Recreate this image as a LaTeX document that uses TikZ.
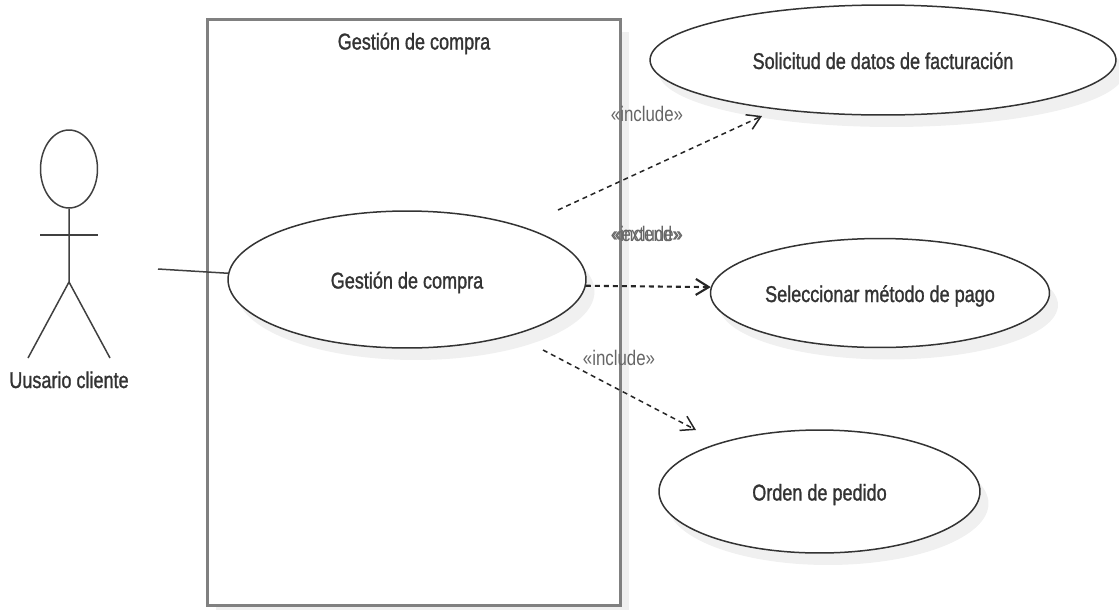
\documentclass[tikz,border=0pt]{standalone}
\usepackage{fontspec}
\setmainfont[FakeStretch=0.80]{Liberation Sans}
\newfontfamily\negrita[FakeStretch=0.79,FakeBold=1.2]{Liberation Sans}
\usetikzlibrary{arrows.meta,shapes,shadows}

\begin{document}
\begin{tikzpicture}[x=0.02cm,y=-0.02cm,>={Straight Barb[length=0.26cm,width=0.32cm]}]
  \tikzstyle{sombra}=[drop shadow={shadow xshift=0.17cm,shadow yshift=-0.24cm,fill=black!6,opacity=1}]
  \tikzstyle{sistema}=[rectangle,draw=black!50,line width=0.065cm,fill=white,inner sep=0,minimum width=8.26cm,minimum height=11.72cm,sombra]
  \tikzstyle{caso}=[ellipse,draw=black!80,line width=0.03cm,fill=white,inner sep=0,sombra,text=black!80,font=\negrita\fontsize{13}{15}\selectfont,text height=0.36cm,text depth=0]
  \tikzstyle{titulo}=[text=black!80,font=\negrita\fontsize{13}{15}\selectfont,text height=0.36cm,text depth=0]
  \tikzstyle{etiqueta}=[text=black!60,font=\fontsize{12}{14}\selectfont]
  \tikzstyle{linea}=[draw=black!75,line width=0.03cm]
  \tikzstyle{incluye}=[draw=black!85,line width=0.03cm,dash pattern=on 0.1cm off 0.08cm,->]

    \useasboundingbox (0,0) rectangle (1119,609);

    \node [sistema] (sistema) at (414,312.5) {};
    \node [titulo] (tsistema) at (414,40.5) {Gestión de compra};

    \node [caso,minimum width=7.16cm,minimum height=2.74cm] (compra) at (407,279.5) {Gestión de compra}; %principal
    \node [caso,minimum width=9.32cm,minimum height=2.2cm] (solicitud) at (883,60) {Solicitud de datos de facturación};
    \node [caso,minimum width=6.78cm,minimum height=2.18cm] (metodo) at (880,293) {Seleccionar método de pago};
    \node [caso,minimum width=6.42cm,minimum height=2.46cm] (orden) at (819.5,491.5) {Orden de pedido};

    % actor
    \node [ellipse,linea,inner sep=0,minimum width=1.14cm,minimum height=1.56cm] (cabeza) at (69,169) {};
    \coordinate (cadera) at (69,282);
    \coordinate (manoi) at (40,235);
    \coordinate (manod) at (98,235);
    \coordinate (piei) at (28,358);
    \coordinate (pied) at (110,358);
    \node [titulo] (actor) at (69,379) {Uusario cliente};
    \draw [linea] (cabeza.south) -- (cadera) -- (piei);
    \draw [linea] (cadera) -- (pied);
    \draw [linea,line width=0.04cm] (manoi) -- (manod);

    \coordinate (asocia) at (158,269);
    \draw [linea] (asocia) -- (compra.178);

    \coordinate (salidauno) at (558,210);
    \coordinate (llegauno) at (762,116);
    \coordinate (salidatres) at (543,350);
    \coordinate (llegatres) at (696,430);
    \draw [incluye] (salidauno) -- (llegauno);
    \draw [incluye,line width=0.042cm] (compra.-2) -- (metodo.178);
    \draw [incluye] (salidatres) -- (llegatres);

    \node [etiqueta] (inclusol) at (647,114) {«include»};
    \node [etiqueta] (incluma) at (647,234) {«include»};
    \node [etiqueta] (extiende) at (647,234) {«extend»};
    \node [etiqueta] (incluord) at (619,358) {«include»};
\end{tikzpicture}
\end{document}
